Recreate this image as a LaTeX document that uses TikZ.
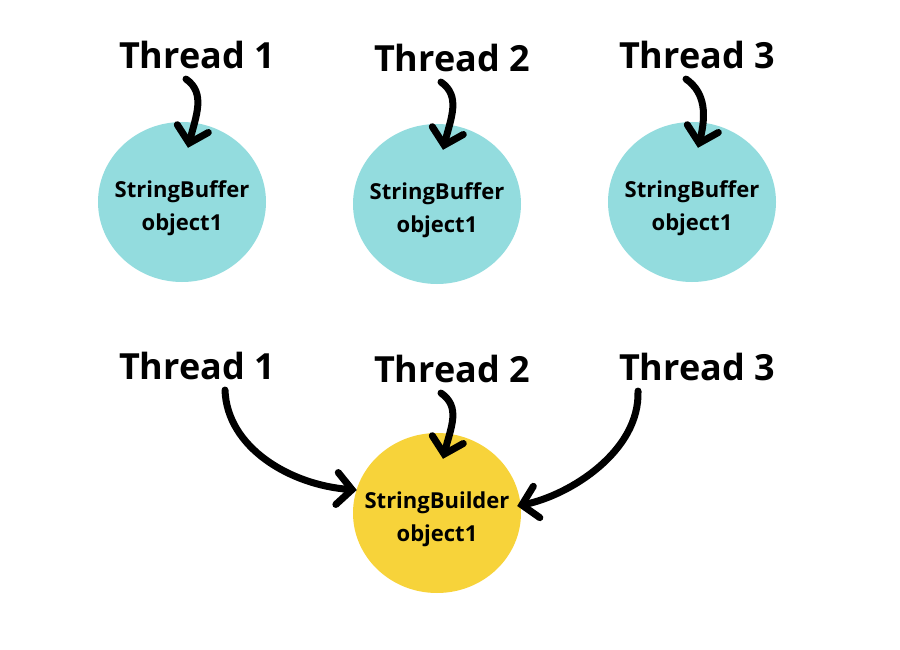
\documentclass[tikz,border=0pt]{standalone}
\usepackage{fontspec}
\setmainfont{Open Sans}
\usetikzlibrary{arrows.meta,shapes.geometric}
\definecolor{bufcol}{HTML}{93DCDE}
\definecolor{bldcol}{HTML}{F7D33A}

\begin{document}
\begin{tikzpicture}[x=1pt,y=-1pt,
    thread/.style={font=\fontsize{36}{40}\selectfont\bfseries,inner sep=0pt},
    obj/.style={ellipse,minimum width=168pt,minimum height=160pt,inner sep=0pt},
    objtext/.style={align=center,yshift=-6pt,font=\fontsize{22}{33}\selectfont\bfseries},
    thr/.style={line width=7pt,line cap=round,-{Straight Barb[length=15pt,width=32pt,line cap=round]}}]
                \useasboundingbox (0,0) rectangle (900,650);
                % top row
                \node[obj,fill=bufcol,label={[objtext]center:StringBuffer\\object1}] (b1) at (182,202) {};
                \node[obj,fill=bufcol,label={[objtext]center:StringBuffer\\object1}] (b2) at (437,204) {};
                \node[obj,fill=bufcol,label={[objtext]center:StringBuffer\\object1}] (b3) at (692,202) {};
                \node[thread] (t1) at (197,55) {Thread 1};
                \node[thread] (t2) at (452,58) {Thread 2};
                \node[thread] (t3) at (697,55) {Thread 3};
                \draw[thr] ([xshift=-11pt,yshift=-10pt]t1.south) .. controls +(20,14) and +(8,-32) .. ([xshift=6pt,yshift=-26pt]b1.north);
                \draw[thr] ([xshift=-11pt,yshift=-10pt]t2.south) .. controls +(20,14) and +(8,-32) .. ([xshift=6pt,yshift=-26pt]b2.north);
                \draw[thr] ([xshift=-11pt,yshift=-10pt]t3.south) .. controls +(20,14) and +(8,-32) .. ([xshift=6pt,yshift=-26pt]b3.north);
                % bottom row
                \node[obj,fill=bldcol,label={[objtext]center:StringBuilder\\object1}] (sb) at (437,513) {};
                \node[thread] (u1) at (197,366) {Thread 1};
                \node[thread] (u2) at (452,369) {Thread 2};
                \node[thread] (u3) at (697,367) {Thread 3};
                \draw[thr] ([xshift=28pt,yshift=-10pt]u1.south) .. controls +(2,58) and +(-66,-5) .. ([xshift=4pt]sb.west|-0,490);
                \draw[thr] ([xshift=-11pt,yshift=-10pt]u2.south) .. controls +(20,14) and +(8,-32) .. ([xshift=6pt,yshift=-26pt]sb.north);
                \draw[thr] ([xshift=-59pt,yshift=-10pt]u3.south) .. controls +(2,60) and +(53,-11) .. ([xshift=-4pt]sb.east|-0,506);
            \end{tikzpicture}
\end{document}
